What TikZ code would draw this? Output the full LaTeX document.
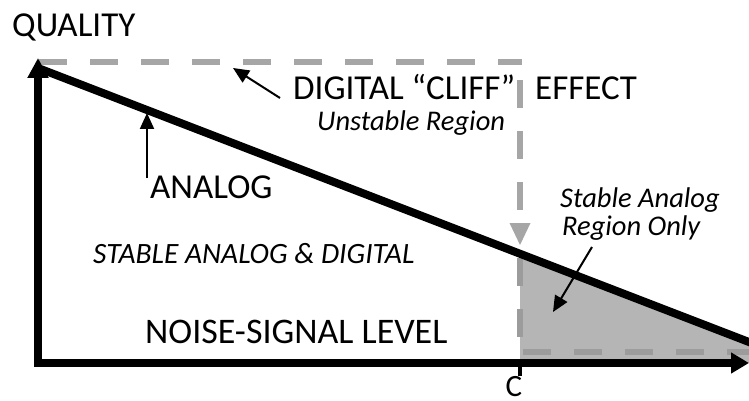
\documentclass[tikz,border=0pt]{standalone}
\usepackage{fontspec}
\setmainfont{Carlito}
\usetikzlibrary{arrows.meta}
\definecolor{dashgray}{HTML}{A6A6A6}
\definecolor{dashdark}{HTML}{9C9C9C}
\definecolor{regionfill}{HTML}{B5B5B5}
\begin{document}
\begin{tikzpicture}[x=1pt,y=-1pt,
  lbl/.style={inner sep=0pt,font=\fontsize{35}{37}\selectfont},
  ilbl/.style={inner sep=0pt,font=\fontsize{28.5}{31}\selectfont\itshape},
  axis/.style={line width=8pt,line join=miter,
    {Triangle[length=20pt,width=20pt]}-{Triangle[length=18pt,width=20pt]}},
  curve/.style={line width=8pt,line cap=butt},
  pointer/.style={line width=2pt,-{Triangle[length=16pt,width=14pt]}},
  cliff/.style={line width=6pt,dashgray,dash pattern=on 28pt off 23pt},
  cliffin/.style={line width=6pt,dashdark,dash pattern=on 28pt off 23pt}]
\useasboundingbox (0,0) rectangle (749,401);

% key points of the plot
\coordinate (ytop) at (38,58);
\coordinate (org) at (38,363);
\coordinate (xend) at (749,363);
\coordinate (astart) at (38,68);
\coordinate (aend) at (770,350.1);
\coordinate (cbase) at (520,363);
\coordinate (ccut) at (520,252.7);
\coordinate (cliffL) at (39,62);
\coordinate (cliffR) at (522,62);
\coordinate (cliffTop) at (520,78);
\coordinate (cliffTip) at (520,245);

% region where only the analog signal is stable
\fill[regionfill] (ccut) -- (aend) -- (770,363) -- (cbase) -- cycle;
\draw[cliffin] (520,258) -- (520,358);
\draw[cliffin] (523,352) -- (760,352);

% digital cliff boundary
\draw[cliff] (cliffL) -- (cliffR);
\draw[cliff,dash phase=-2pt] (cliffTop) -- (520,226);
\fill[dashgray] (cliffTip) -- ++(-10.5,-22) -- ++(21,0) -- cycle;

% analog quality curve
\draw[curve] (astart) -- (aend);

% axes and tick at C
\draw[axis] (ytop) -- (org) -- (xend);
\draw[line width=4pt] (cbase) -- ++(0,13);

% labels
\node[lbl,anchor=base west] (qual) at (12,36.5) {QUALITY};
\node[lbl,anchor=base west] (cliffA) at (293,100) {DIGITAL “CLIFF”};
\node[lbl,anchor=base west] (cliffB) at (535,100) {EFFECT};
\node[ilbl,anchor=base west] (unst) at (317,131) {Unstable Region};
\node[lbl,anchor=base west] (ana) at (150,198) {ANALOG};
\node[ilbl,anchor=base west,font=\fontsize{29.5}{31}\selectfont\itshape] (both) at (93,263) {STABLE ANALOG \& DIGITAL};
\node[ilbl,anchor=base west] (only1) at (560,207) {Stable Analog};
\node[ilbl,anchor=base west] (only2) at (562,235) {Region Only};
\node[lbl,anchor=base west,font=\fontsize{36}{38}\selectfont] (noise) at (145,343) {NOISE-SIGNAL LEVEL};
\node[lbl,anchor=base,font=\fontsize{31}{33}\selectfont] (clab) at (514,396.5) {C};

% pointers
\coordinate (p1) at (233,68);
\coordinate (p2) at (147,113);
\coordinate (p3) at (553,312);
\draw[pointer] (280,98) -- (p1);
\draw[pointer] (147,178) -- (p2);
\draw[pointer] (592,247) -- (p3);
\end{tikzpicture}
\end{document}
